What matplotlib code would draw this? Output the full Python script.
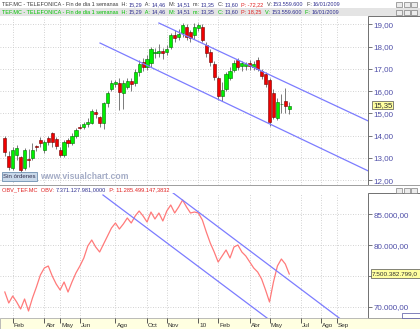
import numpy as np
import matplotlib
matplotlib.use('Agg')
import matplotlib.pyplot as plt
from matplotlib.patches import Rectangle
import matplotlib.transforms as mtrans

plt.rcParams['font.family'] = ['Liberation Sans', 'DejaVu Sans']

# weekly bars, index = weeks since 2 Jan 2009
week = list(range(3, 76))
opens = [13.88, 13.10, 12.55, 13.12, 13.03, 12.55, 12.95, 13.00, 13.52, 13.80, 13.35, 13.90, 14.10,
         13.85, 13.35, 13.12, 13.80, 13.65, 14.00, 14.40, 14.40, 14.50, 14.55, 15.05, 14.85, 14.55,
         15.45, 16.10, 16.30, 16.35, 15.90, 16.20, 16.45, 16.35, 16.85, 17.30, 17.10, 17.25, 17.70,
         17.70, 17.80, 17.75, 18.00, 18.50, 18.45, 18.60, 18.90, 18.65, 18.50, 18.85, 18.90, 18.05,
         17.75, 17.20, 16.60, 15.80, 16.10, 16.60, 16.95, 17.40, 17.15, 17.15, 17.25, 17.10, 17.40,
         16.90, 16.75, 16.50, 15.90, 14.80, 15.40, 15.55, 15.20]
closes = [13.26, 12.60, 13.35, 13.44, 12.45, 13.35, 12.90, 13.35, 13.47, 13.65, 13.70, 13.70, 13.70,
          13.55, 13.12, 13.70, 13.65, 14.00, 14.25, 14.35, 14.50, 14.60, 15.10, 14.95, 14.55, 15.45,
          15.90, 16.35, 16.40, 15.95, 16.35, 16.45, 16.30, 16.85, 17.20, 17.10, 17.45, 17.90, 17.75,
          17.80, 17.70, 17.90, 18.50, 18.40, 18.55, 18.97, 18.45, 18.40, 18.90, 18.95, 18.30, 17.70,
          17.30, 16.65, 15.80, 16.05, 16.75, 16.90, 17.25, 17.10, 17.25, 17.20, 17.15, 17.20, 17.00,
          16.70, 16.30, 14.60, 14.85, 15.50, 15.42, 15.35, 15.35]
highs = [13.98, 13.30, 13.50, 13.60, 13.10, 13.45, 13.40, 13.65, 13.60, 13.95, 13.80, 14.00, 14.15,
         13.95, 13.50, 13.80, 13.90, 14.10, 14.35, 14.50, 14.60, 14.80, 15.20, 15.20, 14.90, 15.50,
         16.00, 16.50, 16.50, 16.60, 16.50, 16.60, 16.60, 17.00, 17.40, 17.50, 17.60, 18.00, 17.95,
         18.10, 17.95, 18.05, 18.60, 18.75, 18.80, 19.05, 19.00, 18.75, 19.05, 19.05, 19.00, 18.20,
         17.90, 17.35, 16.70, 16.40, 16.85, 17.10, 17.40, 17.50, 17.35, 17.30, 17.40, 17.35, 17.55,
         17.00, 16.85, 16.60, 16.10, 15.70, 15.85, 16.15, 15.50]
lows = [13.10, 12.45, 12.45, 12.90, 12.35, 12.45, 12.60, 12.90, 13.30, 13.50, 13.20, 13.60, 13.50,
        13.40, 13.05, 13.05, 13.50, 13.60, 13.90, 14.30, 14.30, 14.40, 14.50, 14.80, 14.40, 14.30,
        15.30, 16.00, 16.20, 15.15, 15.20, 16.10, 16.00, 16.25, 16.70, 16.90, 16.95, 17.10, 17.50,
        17.55, 17.45, 17.60, 17.90, 18.20, 18.30, 18.45, 18.30, 18.20, 18.35, 18.70, 18.20, 17.55,
        17.15, 16.50, 15.60, 15.55, 16.00, 16.50, 16.85, 16.95, 16.90, 16.95, 16.95, 16.95, 16.90,
        16.55, 16.20, 14.45, 14.75, 14.70, 15.00, 15.00, 14.95]
obv = [72389, 70604, 71740, 70766, 69630, 71253, 69306, 71415, 73201, 75148, 76284, 76609, 74986,
       73688, 72714, 74012, 72389, 74012, 75473, 76609, 77907, 79855, 80829, 79693, 78881, 80180,
       81478, 82776, 83588, 82614, 83426, 84400, 83588, 84724, 85536, 84724, 83750, 85373, 84237,
       85211, 83913, 85536, 86509, 85211, 86185, 87321, 86185, 85211, 85373, 85211, 84075, 82127,
       80342, 78881, 77258, 78232, 79206, 77907, 79693, 80017, 78881, 78232, 77258, 76284, 75635,
       74499, 72714, 70766, 74012, 76609, 77745, 76934, 75311]

# trend channels (start / end points)
price_up_x, price_up_y = [42.0, 94.9], [19.06, 14.665]
price_lo_x, price_lo_y = [27.1, 94.9], [18.16, 12.42]
obv_up_x, obv_up_y = [45.6, 94.7], [88457, 64761]
obv_lo_x, obv_lo_y = [27.85, 76.45], [88132, 64761]

month_pos = [5, 13, 17, 22, 31, 39, 44, 52, 57, 65, 70, 78, 83, 87]
month_lab = ['Feb', 'Abr', 'May', 'Jun', 'Ago', 'Oct', 'Nov', '10', 'Feb', 'Abr', 'May', 'Jul', 'Ago', 'Sep']
price_ticks = [12, 13, 14, 15, 16, 17, 18, 19]
obv_ticks = [70000, 75000, 80000, 85000]
obv_labels = ['70.000,00', '', '80.000,00', '85.000,00']  # 75.000 is hidden under the marker

W, H = 420, 329
fig = plt.figure(figsize=(W / 100, H / 100), dpi=100)


def box(x0, y0, x1, y1):
    return [x0 / W, 1 - y1 / H, (x1 - x0) / W, (y1 - y0) / H]


def frect(x0, y0, x1, y1, fc, ec='none', lw=0.6, z=-1):
    fig.patches.append(Rectangle((x0 / W, 1 - y1 / H), (x1 - x0) / W, (y1 - y0) / H,
                                 transform=fig.transFigure, fc=fc, ec=ec, lw=lw, zorder=z))


def ftext(x, y, s, **kw):
    kw.setdefault('fontsize', 4.4)
    kw.setdefault('va', 'center')
    return fig.text(x / W, 1 - y / H, s, **kw)


def segs(x, y, parts, size=4.0):
    r = fig.canvas.get_renderer()
    for s, c in parts:
        t = ftext(x, y, s, color=c, fontsize=size)
        x += t.get_window_extent(r).width


def buttons(y):
    for k in range(3):
        frect(396 + k * 7.5, y - 2.5, 402 + k * 7.5, y + 2.5, '#ECECEC', '#808080', 0.5, 2)


# backgrounds
frect(0, 0, W, 8, 'white')
frect(0, 8, W, 16, '#E4E4E4')
frect(368, 16, 419.5, 185, 'white', '#707070', 0.7)
frect(0, 185, W, 186.2, '#A0A0A0')
frect(368, 193, 419.5, 318, 'white', '#707070', 0.7)
frect(0, 318, W, H, '#FFFFE1', '#A0A0A0', 0.5)
buttons(4.5)
buttons(12)
buttons(190)

xl = (1.78, 94.93)
grid_kw = dict(color='#C4C4C4', lw=0.6, ls=(0, (1, 2)), zorder=0)
tick_col = '#4E4EA8'

# price panel
ax = fig.add_axes(box(0, 17, 368, 185), facecolor='none')
ax.set_xlim(*xl)
ax.set_ylim(11.78, 19.33)
for p in month_pos:
    ax.axvline(p, **grid_kw)
for p in price_ticks:
    ax.axhline(p, **grid_kw)
ax.vlines(week, lows, highs, color='#7A7A7A', lw=0.7, zorder=2)
o = np.array(opens)
c = np.array(closes)
up = c >= o
bot = np.minimum(o, c)
hgt = np.maximum(np.abs(c - o), 0.04)
ax.bar(np.array(week)[up], hgt[up], bottom=bot[up], width=0.8, color='#00F000', edgecolor='#007000', lw=0.4, zorder=3)
ax.bar(np.array(week)[~up], hgt[~up], bottom=bot[~up], width=0.8, color='#F00000', edgecolor='#700000', lw=0.4, zorder=3)
ax.plot(price_up_x, price_up_y, color='#7C7CFF', lw=0.9, zorder=4)
ax.plot(price_lo_x, price_lo_y, color='#7C7CFF', lw=0.9, zorder=4)
ax.set_xticks([])
ax.yaxis.tick_right()
ax.set_yticks(price_ticks, [f'{v},00' for v in price_ticks])
ax.tick_params(axis='y', direction='out', length=3, width=0.6, color='#606060',
               labelcolor=tick_col, labelsize=5.8, pad=1)
for s in ax.spines.values():
    s.set_visible(False)

# OBV panel
ax2 = fig.add_axes(box(0, 193, 368, 318), facecolor='none')
ax2.set_xlim(*xl)
ax2.set_ylim(68170, 88457)
for p in month_pos:
    ax2.axvline(p, **grid_kw)
for p in obv_ticks:
    ax2.axhline(p, **grid_kw)
ax2.plot(week, obv, color='#FF7A7A', lw=0.9, zorder=3)
ax2.plot(obv_up_x, obv_up_y, color='#7C7CFF', lw=0.9, zorder=4)
ax2.plot(obv_lo_x, obv_lo_y, color='#7C7CFF', lw=0.9, zorder=4)
ax2.yaxis.tick_right()
ax2.set_yticks(obv_ticks, obv_labels)
ax2.tick_params(axis='y', direction='out', length=3, width=0.6, color='#606060',
                labelcolor=tick_col, labelsize=5.8, pad=1)
ax2.set_xticks(month_pos, [''] * len(month_pos))
ax2.tick_params(axis='x', direction='out', length=3.5, width=0.6, color='#404040')
tr = mtrans.blended_transform_factory(ax2.transData, ax2.transAxes)
for p, lab in zip(month_pos, month_lab):
    ax2.text(p + 0.3, -0.06, lab, transform=tr, fontsize=4.6, color='#303030',
             ha='left', va='center', clip_on=False)
for s in ax2.spines.values():
    s.set_visible(False)

# headers
dark, blue, red, green = '#3A3A3A', '#303090', '#E02020', '#00C000'
segs(2, 4.5, [('TEF.MC - TELEFONICA - Fin de dia 1 semanas  H: ', dark), ('15,29', blue),
              ('  A: ', dark), ('14,46', blue), ('  M: ', dark), ('14,51', blue),
              ('  m: ', dark), ('13,35', blue), ('  C: ', dark), ('13,60', blue),
              ('  P: -72,22', red), ('  V: ', dark), ('153.559.600', blue),
              ('  F: ', dark), ('16/01/2009', blue)])
segs(2, 12, [('TEF.MC - TELEFONICA - Fin de dia 1 semanas  H: ', green), ('15,29', blue),
             ('  A: ', green), ('14,46', blue), ('  M: ', green), ('14,51', blue),
             ('  m: ', green), ('13,35', blue), ('  C: ', green), ('13,60', blue),
             ('  P: 18,25', red), ('  V: ', green), ('153.559.600', blue),
             ('  F: ', green), ('16/01/2009', blue)])
segs(2, 189.5, [('OBV_TEF.MC  OBV: ', red), ('7.371.127.981,0000', blue),
                ('  P: 11.285.499.147,3832', red)], size=4.05)

# bottom-left tag and watermark
frect(2, 172, 37, 181, '#C9D9EA', '#6F8FB0', 0.6, 2)
ftext(19.5, 176.5, 'Sin órdenes', color='#303050', ha='center', zorder=3)
ftext(40, 176.5, 'www.visualchart.com', color='#A4ACC6', fontsize=6.2, fontweight='bold', zorder=3)

# last value markers
y_last = 24.3 + (19 - closes[-1]) * 22.24
frect(372, y_last - 4, 393, y_last + 4, '#FFFFA0', '#505050', 0.5, 5)
ftext(373.5, y_last, '15,35', color='#303030', fontsize=5.6, zorder=6)
y_obv = 214.3 + (85000 - obv[-1]) / 162.3
frect(371, y_obv - 4.5, 421, y_obv + 4.5, '#FFFFA0', '#505050', 0.5, 5)
ftext(372, y_obv, '7.500.382.799,0', color='#303030', fontsize=4.6, zorder=6)
frect(402, 312.5, 420, 318, 'white', '#5050A0', 0.5, 5)

fig.savefig('out.png', dpi=100)
